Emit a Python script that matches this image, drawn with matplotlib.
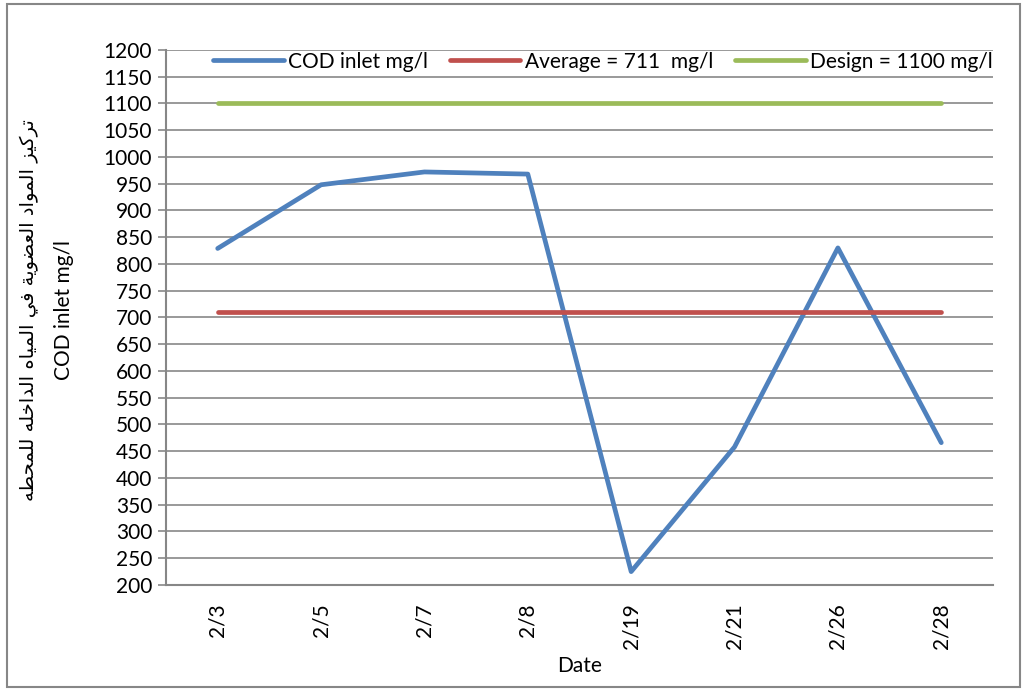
import matplotlib
matplotlib.use("Agg")
import matplotlib.pyplot as plt
from matplotlib.patches import Rectangle

# =========================
# DATOS
# =========================
fechas = ["2/3", "2/5", "2/7", "2/8", "2/19", "2/21", "2/26", "2/28"]
cod_inlet = [829, 948, 972, 968, 225, 458, 830, 466]
promedio = 711
diseno = 1100

titulo_eje_ar = "تركيز المواد العضوية في المياه الداخله للمحطه"
titulo_eje_en = "COD inlet mg/l"

# =========================
# FORMAS ARABES (matplotlib no une las letras)
# =========================
# letra: (aislada, final, inicial, media)
formas = {
    "ا": ("\uFE8D", "\uFE8E", None, None),
    "ت": ("\uFE95", "\uFE96", "\uFE97", "\uFE98"),
    "ة": ("\uFE93", "\uFE94", None, None),
    "ح": ("\uFEA1", "\uFEA2", "\uFEA3", "\uFEA4"),
    "خ": ("\uFEA5", "\uFEA6", "\uFEA7", "\uFEA8"),
    "د": ("\uFEA9", "\uFEAA", None, None),
    "ر": ("\uFEAD", "\uFEAE", None, None),
    "ز": ("\uFEAF", "\uFEB0", None, None),
    "ض": ("\uFEBD", "\uFEBE", "\uFEBF", "\uFEC0"),
    "ط": ("\uFEC1", "\uFEC2", "\uFEC3", "\uFEC4"),
    "ع": ("\uFEC9", "\uFECA", "\uFECB", "\uFECC"),
    "ف": ("\uFED1", "\uFED2", "\uFED3", "\uFED4"),
    "ك": ("\uFED9", "\uFEDA", "\uFEDB", "\uFEDC"),
    "ل": ("\uFEDD", "\uFEDE", "\uFEDF", "\uFEE0"),
    "م": ("\uFEE1", "\uFEE2", "\uFEE3", "\uFEE4"),
    "ه": ("\uFEE9", "\uFEEA", "\uFEEB", "\uFEEC"),
    "و": ("\uFEED", "\uFEEE", None, None),
    "ي": ("\uFEF1", "\uFEF2", "\uFEF3", "\uFEF4"),
}


def unir_arabe(texto):
    palabras = []
    for palabra in texto.split(" "):
        salida = ""
        for i, ch in enumerate(palabra):
            if ch not in formas:
                salida += ch
                continue
            antes = i > 0 and palabra[i - 1] in formas and formas[palabra[i - 1]][2] is not None
            despues = (i < len(palabra) - 1 and palabra[i + 1] in formas
                       and formas[ch][2] is not None)
            f = formas[ch]
            if antes and despues:
                salida += f[3]
            elif antes:
                salida += f[1]
            elif despues:
                salida += f[2]
            else:
                salida += f[0]
        palabras.append(salida)
    # de derecha a izquierda
    return " ".join(palabras)[::-1]


# =========================
# GRAFICO
# =========================
plt.rcParams["font.family"] = ["Lato", "DejaVu Sans"]
gris = "#878787"

fig = plt.figure(figsize=(10.26, 6.9), dpi=100)
ax = fig.add_axes([0.1618, 0.1522, 0.806, 0.7754])

x = list(range(len(fechas)))
ax.plot(x, cod_inlet, color="#4F81BD", lw=3.4, solid_joinstyle="round",
        solid_capstyle="round", label="COD inlet mg/l", zorder=3)
ax.plot(x, [promedio] * len(x), color="#C0504D", lw=3.4,
        solid_capstyle="round", label="Average = 711  mg/l", zorder=3)
ax.plot(x, [diseno] * len(x), color="#9BBB59", lw=3.4,
        solid_capstyle="round", label="Design = 1100 mg/l", zorder=3)

ax.set_xlim(-0.5, len(fechas) - 0.5)
ax.set_ylim(200, 1200)
ax.set_yticks(range(200, 1201, 50))
ax.set_xticks(x)
ax.set_xticklabels(fechas, rotation=90, fontsize=15)
ax.tick_params(axis="y", labelsize=15, length=6, width=1.2, color=gris, pad=4)
ax.tick_params(axis="x", length=0, pad=13)
ax.grid(True, axis="y", color=gris, lw=1.2)
ax.set_axisbelow(True)

for lado in ["top", "right"]:
    ax.spines[lado].set_visible(False)
for lado in ["left", "bottom"]:
    ax.spines[lado].set_color(gris)
    ax.spines[lado].set_linewidth(1.5)

ax.set_xlabel("Date", fontsize=15, labelpad=5)

# titulo del eje y en dos lineas
fig.text(0.029, 0.55, unir_arabe(titulo_eje_ar), rotation=90, fontsize=14,
         family="DejaVu Sans", ha="center", va="center")
fig.text(0.062, 0.55, titulo_eje_en, rotation=90, fontsize=15,
         ha="center", va="center")

ax.legend(loc="center", bbox_to_anchor=(0.528, 0.978), ncol=3, frameon=False,
          fontsize=15, handlelength=3.4, handletextpad=0.2, columnspacing=1.05,
          borderaxespad=0)

# borde exterior
fig.patches.append(Rectangle((0.007, 0.004), 0.987, 0.99, transform=fig.transFigure,
                             fill=False, edgecolor=gris, lw=1.5))

fig.savefig("out.png", dpi=100)
